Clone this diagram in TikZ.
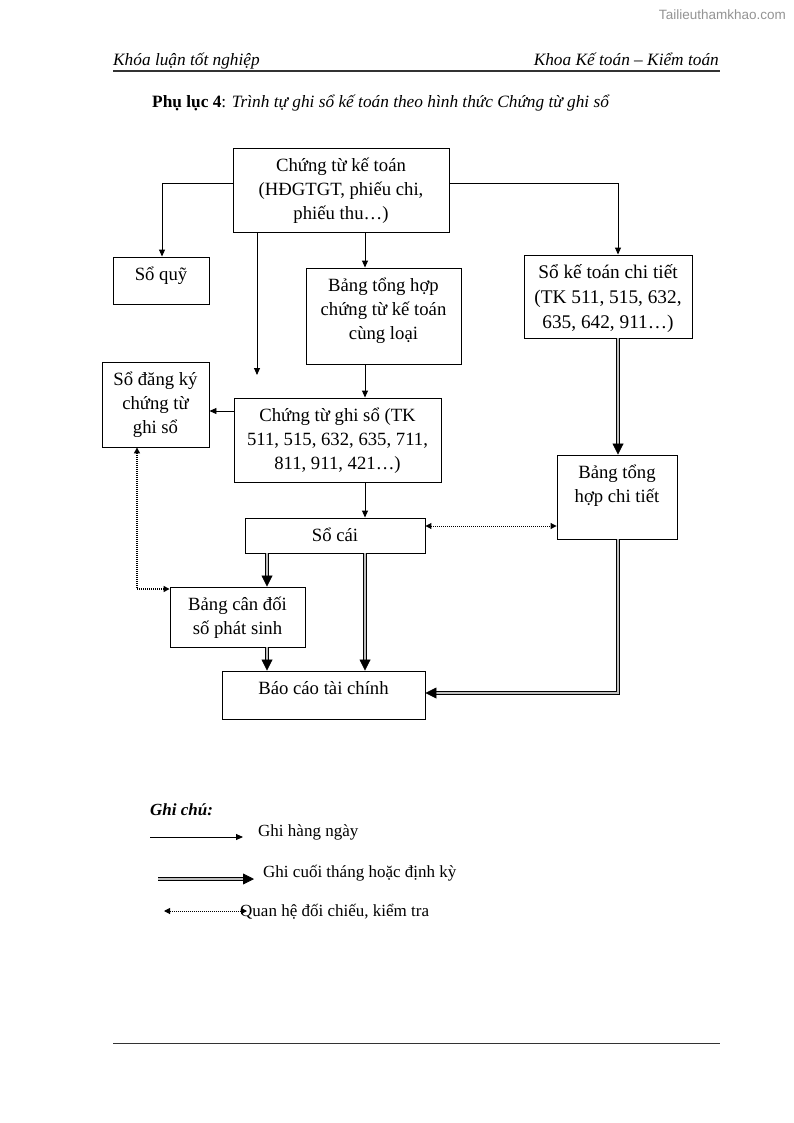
\documentclass[tikz,border=0pt]{standalone}
\usepackage{fontspec}
\setmainfont{Liberation Serif}
\newfontfamily\wmfont{Liberation Sans}
\usetikzlibrary{arrows.meta}
\newcommand\bxtext[3]{\parbox[c][#2][t]{#1}{\centering\rule{0pt}{23.5pt}#3}}
\begin{document}
\begin{tikzpicture}[x=1pt,y=-1pt,
  every node/.style={font=\fontsize{17}{24}\selectfont},
  box/.style={draw, line width=0.9pt, inner sep=0pt, font=\fontsize{18.7}{24}\selectfont},
  arr/.style={line width=0.9pt, -{Triangle[length=7pt,width=6pt]}},
  dbl/.style={double=gray!50, double distance=2.2pt, line width=0.8pt, line join=miter, -{Triangle[length=11pt,width=11pt]}},
  dot/.style={line width=1pt, densely dotted, {Triangle[length=6pt,width=6pt]}-{Triangle[length=6pt,width=6pt]}},
  txt/.style={inner sep=0pt, anchor=base west}
]
\path[use as bounding box] (0,0) rectangle (794,1123);

% header
\node[inner sep=0pt, anchor=base east, font=\wmfont\fontsize{13.5}{16}\selectfont, text=gray!85] (wm) at (786,20) {Tailieuthamkhao.com};
\node[txt, font=\fontsize{17.3}{24}\selectfont] (hl) at (113,66) {\textit{Khóa luận tốt nghiệp}};
\node[inner sep=0pt, anchor=base east, font=\fontsize{17.3}{24}\selectfont] (hr) at (719,66) {\textit{Khoa Kế toán – Kiểm toán}};
\draw[line width=1.6pt, black!80] (113,71) -- (720,71);
\node[txt, font=\fontsize{17.3}{24}\selectfont] (title) at (152,108) {\textbf{Phụ lục 4}: \textit{Trình tự ghi sổ kế toán theo hình thức Chứng từ ghi sổ}};

% boxes
\node[box] (ctkt) at (341,190) {\bxtext{216pt}{84pt}{Chứng từ kế toán\\(HĐGTGT, phiếu chi,\\phiếu thu…)}};
\node[box] (soquy) at (161,280.5) {\bxtext{96pt}{47pt}{Sổ quỹ}};
\node[box] (bth) at (383.5,316) {\bxtext{155pt}{96pt}{Bảng tổng hợp\\chứng từ kế toán\\cùng loại}};
\node[box, font=\fontsize{19.3}{25}\selectfont] (skt) at (608,296.5) {\bxtext{168pt}{83pt}{Sổ kế toán chi tiết\\(TK 511, 515, 632,\\635, 642, 911…)}};
\node[box] (sdk) at (155.5,404.5) {\bxtext{107pt}{85pt}{Sổ đăng ký\\chứng từ\\ghi sổ}};
\node[box] (ctgs) at (337.5,440) {\bxtext{207pt}{84pt}{Chứng từ ghi sổ (TK\\511, 515, 632, 635, 711,\\811, 911, 421…)}};
\node[box] (bthct) at (617,497) {\bxtext{120pt}{84pt}{Bảng tổng\\hợp chi tiết}};
\node[box] (socai) at (335,535.5) {\bxtext{180pt}{35pt}{Sổ cái}};
\node[box] (bcd) at (237.5,617) {\bxtext{135pt}{60pt}{Bảng cân đối\\số phát sinh}};
\node[box] (bctc) at (323.5,695) {\bxtext{203pt}{48pt}{Báo cáo tài chính}};

% helper coordinates
\coordinate (bendL) at (162,183);
\coordinate (bendR) at (618,183);
\coordinate (xm) at (365,0);
\coordinate (free) at (257,375);
\coordinate (yl) at (0,411);
\coordinate (xr) at (618,0);
\coordinate (yd) at (0,526);
\coordinate (xl) at (267,0);
\coordinate (bendB) at (618,693);
\coordinate (bendD) at (137,589);

% connectors
\draw[arr] (ctkt.west |- bendL) -- (bendL) -- (soquy.north -| bendL);
\draw[arr] (ctkt.east |- bendR) -- (bendR) -- (skt.north -| bendR);
\draw[arr] (ctkt.south -| xm) -- (bth.north -| xm);
\draw[arr] (ctkt.south -| free) -- (free);
\draw[arr] (bth.south -| xm) -- (ctgs.north -| xm);
\draw[arr] (ctgs.west |- yl) -- (sdk.east |- yl);
\draw[arr] (ctgs.south -| xm) -- (socai.north -| xm);
\draw[dbl] (skt.south -| xr) -- (bthct.north -| xr);
\draw[dot] (socai.east |- yd) -- (bthct.west |- yd);
\draw[dbl] (socai.south -| xl) -- (bcd.north -| xl);
\draw[dbl] (socai.south -| xm) -- (bctc.north -| xm);
\draw[dbl] (bcd.south -| xl) -- (bctc.north -| xl);
\draw[dbl] (bthct.south -| xr) -- (bendB) -- (bctc.east |- bendB);
\draw[dot, line width=1.3pt] (sdk.south -| bendD) -- (bendD) -- (bcd.west |- bendD);

% legend
\node[txt] (gc) at (150,815) {\textbf{\textit{Ghi chú:}}};
\coordinate (l1a) at (150,837);
\coordinate (l1b) at (243,837);
\draw[arr] (l1a) -- (l1b);
\node[txt] (g1) at (258,836) {Ghi hàng ngày};
\coordinate (l2a) at (158,879);
\coordinate (l2b) at (254,879);
\draw[dbl] (l2a) -- (l2b);
\node[txt] (g2) at (263,877) {Ghi cuối tháng hoặc định kỳ};
\coordinate (l3a) at (164,911);
\coordinate (l3b) at (247,911);
\draw[dot] (l3a) -- (l3b);
\node[txt] (g3) at (240,916) {Quan hệ đối chiếu, kiểm tra};

% footer
\draw[line width=0.9pt, black!80] (113,1043) -- (720,1043);
\end{tikzpicture}
\end{document}
